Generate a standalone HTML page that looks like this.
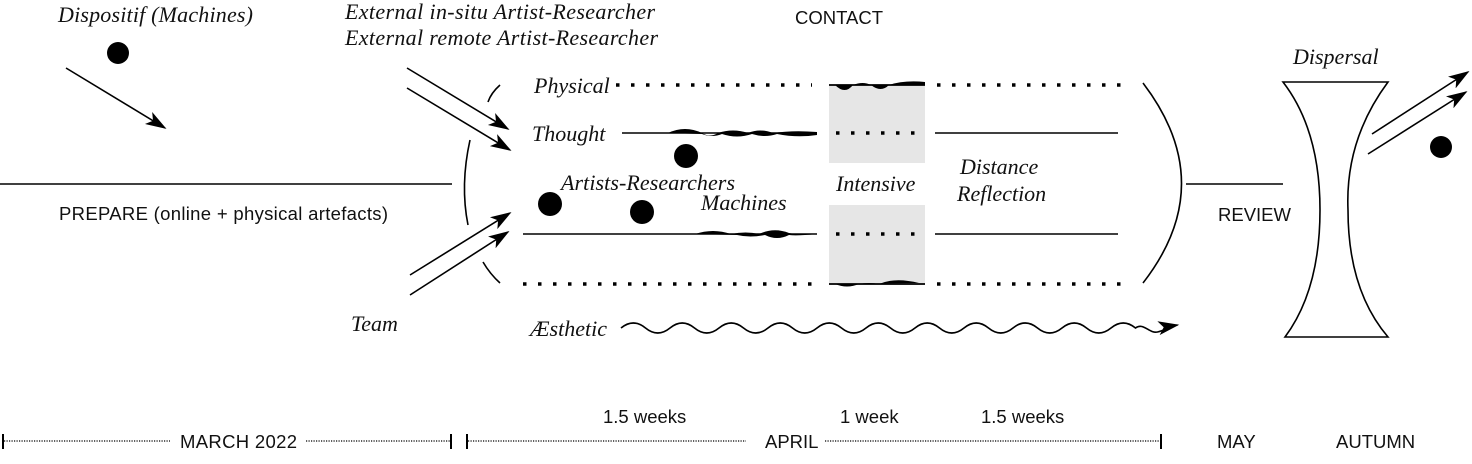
<!DOCTYPE html>
<html><head><meta charset="utf-8"><style>
html,body{margin:0;padding:0;background:#fff;}
svg{display:block}
.s{font-family:"Liberation Sans",sans-serif;font-size:18.5px;fill:#111;}
.i{font-family:"Liberation Serif",serif;font-style:italic;font-size:22px;fill:#111;}
</style></head><body>
<svg width="1472" height="464" viewBox="0 0 1472 464" xmlns="http://www.w3.org/2000/svg">
<defs>
<marker id="a" viewBox="0 0 12 8" markerWidth="22" markerHeight="14" refX="11" refY="4" orient="auto" markerUnits="userSpaceOnUse">
<path d="M0,0 L12,4 L0,8 L3,4 z" fill="#000"/></marker>
</defs>
<g stroke="#000" fill="none" stroke-width="1.6">
<line x1="0" y1="184" x2="452" y2="184"/>
<line x1="66" y1="68" x2="165" y2="128" marker-end="url(#a)"/>
<line x1="407" y1="68" x2="508" y2="129" marker-end="url(#a)"/>
<line x1="407" y1="88" x2="510" y2="150" marker-end="url(#a)"/>
<line x1="410" y1="275" x2="510" y2="213" marker-end="url(#a)"/>
<line x1="410" y1="295" x2="508" y2="232" marker-end="url(#a)"/>
<path d="M500,85 Q491,93 488,102"/>
<path d="M470,140 Q460,185 468,225"/>
<path d="M483,262 Q490,274 500,283"/>
<line x1="622" y1="133" x2="817" y2="133"/>
<line x1="523" y1="234" x2="817" y2="234"/>
<line x1="935" y1="133" x2="1118" y2="133"/>
<line x1="935" y1="234" x2="1118" y2="234"/>
<path d="M1143,83 Q1220,184 1143,283"/>
<line x1="1186" y1="184" x2="1283" y2="184"/>
<path d="M1283,82 L1388,82 Q1345,140 1348,210 Q1348,290 1388,337 L1285,337 Q1320,290 1320,210 Q1320,130 1283,82 z"/>
<line x1="1372" y1="134" x2="1468" y2="72" marker-end="url(#a)"/>
<line x1="1368" y1="154" x2="1466" y2="92" marker-end="url(#a)"/>
<path d="M621,323 q12.25,-10 24.5,0 t24.5,0 t24.5,0 t24.5,0 t24.5,0 t24.5,0 t24.5,0 t24.5,0 t24.5,0 t24.5,0 t24.5,0 t24.5,0 t24.5,0 t24.5,0 t24.5,0 t24.5,0 t24.5,0 t24.5,0 t24.5,0 t24.5,0 t24.5,0 c8,-6 14,6 22,4 c8,-2 14,-6 20,-7" marker-end="url(#a)" transform="translate(0,5)"/>
</g>
<rect x="829" y="85" width="96" height="78" fill="#e6e6e6"/>
<rect x="829" y="205" width="96" height="80" fill="#e6e6e6"/>
<g stroke="#000" stroke-width="1.8" fill="none">
<line x1="829" y1="85" x2="925" y2="85"/>
<line x1="829" y1="284" x2="925" y2="284"/>
</g>
<g fill="#000">
<path d="M835,85 q10,10 18,0 q10,-4 18,0 q10,8 18,0 q15,-5 36,-3 v3 z"/>
<path d="M835,284 q12,5 24,0 q10,-2 20,0 q16,-7 40,-1 z"/>
<path d="M668,133 q17,-8 34,0 q8,5 16,0 q15,-5 30,0 q12,-5 25,0 q20,-3 44,-1 v3 q-20,3 -40,-1 q-12,4 -25,0 q-15,5 -30,0 q-10,4 -20,0 z"/>
<path d="M695,234 q18,-6 36,0 q15,-3 28,0 q15,-7 30,-1 q10,2 28,1 q-20,2 -28,1 q-12,6 -24,0 q-15,3 -28,0 z"/>
</g>
<g stroke="#000" stroke-width="3.5" stroke-dasharray="3.5 11.5" fill="none">
<line x1="616" y1="85" x2="812" y2="85"/>
<line x1="937" y1="85" x2="1122" y2="85"/>
<line x1="523" y1="284" x2="812" y2="284"/>
<line x1="937" y1="284" x2="1122" y2="284"/>
<line x1="836" y1="133" x2="925" y2="133"/>
<line x1="836" y1="234" x2="925" y2="234"/>
</g>
<g fill="#000">
<circle cx="118" cy="53" r="11"/>
<circle cx="686" cy="156" r="12"/>
<circle cx="550" cy="204" r="12"/>
<circle cx="642" cy="212" r="12"/>
<circle cx="1441" cy="147" r="11"/>
</g>
<text class="i" x="58" y="22" textLength="195">Dispositif (Machines)</text>
<text class="i" x="345" y="19" textLength="310">External in-situ Artist-Researcher</text>
<text class="i" x="345" y="45" textLength="313">External remote Artist-Researcher</text>
<text class="s" x="795" y="24">CONTACT</text>
<text class="i" x="534" y="93">Physical</text>
<text class="i" x="532" y="141">Thought</text>
<text class="i" x="561" y="190" textLength="174">Artists-Researchers</text>
<text class="i" x="701" y="210">Machines</text>
<text class="i" x="836" y="191">Intensive</text>
<text class="i" x="960" y="174">Distance</text>
<text class="i" x="957" y="201">Reflection</text>
<text class="s" x="59" y="220" textLength="329">PREPARE (online + physical artefacts)</text>
<text class="i" x="351" y="331">Team</text>
<text class="i" x="530" y="336">Æsthetic</text>
<text class="i" x="1293" y="64">Dispersal</text>
<text class="s" x="1218" y="221">REVIEW</text>
<g stroke="#000">
<line x1="3" y1="434" x2="3" y2="449" stroke-width="2"/>
<line x1="451" y1="434" x2="451" y2="449" stroke-width="2"/>
<line x1="467" y1="434" x2="467" y2="449" stroke-width="2"/>
<line x1="1161" y1="434" x2="1161" y2="449" stroke-width="2"/>
<g stroke-width="1.2" stroke-dasharray="1.2 1.3">
<line x1="4" y1="441" x2="170" y2="441"/>
<line x1="306" y1="441" x2="450" y2="441"/>
<line x1="468" y1="441" x2="746" y2="441"/>
<line x1="825" y1="441" x2="1160" y2="441"/>
</g>
</g>
<text class="s" x="180" y="448" textLength="117">MARCH 2022</text>
<text class="s" x="765" y="448">APRIL</text>
<text class="s" x="1217" y="448">MAY</text>
<text class="s" x="1336" y="448">AUTUMN</text>
<text class="s" x="603" y="423">1.5 weeks</text>
<text class="s" x="840" y="423">1 week</text>
<text class="s" x="981" y="423">1.5 weeks</text>
</svg>
</body></html>
